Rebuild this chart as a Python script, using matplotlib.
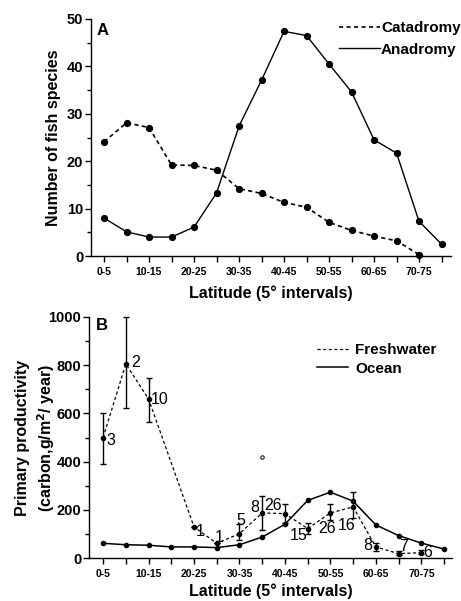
import numpy as np
import matplotlib
matplotlib.use('Agg')
import matplotlib.pyplot as plt
from matplotlib.ticker import MultipleLocator

plt.rcParams['font.family'] = ['Liberation Sans', 'DejaVu Sans']
plt.rcParams['font.weight'] = 'bold'

# Latitude bins (5 degree intervals)
lat_bins = ['0-5', '5-10', '10-15', '15-20', '20-25', '25-30', '30-35', '35-40',
            '40-45', '45-50', '50-55', '55-60', '60-65', '65-70', '70-75', '75-80']

# Panel A: number of fish species
catadromy_idx = list(range(15))
catadromy = [24.1, 28.1, 27.1, 19.2, 19.1, 18.1, 14.2, 13.2, 11.3, 10.3, 7.1, 5.4, 4.2, 3.2, 0.3]
anadromy_idx = list(range(16))
anadromy = [8.0, 5.1, 4.0, 4.0, 6.1, 13.3, 27.4, 37.1, 47.4, 46.5, 40.5, 34.6, 24.5, 21.7, 7.3, 2.5]

# Panel B: primary productivity
fresh_idx = [0, 1, 2, 4, 5, 6, 7, 8, 9, 10, 11, 12, 13, 14]
fresh = [500, 805, 660, 129, 61, 101, 187, 184, 122, 187, 212, 46, 18, 22]
fresh_hi = [600, 1000, 745, 129, 61, 140, 258, 226, 147, 223, 272, 62, 29, 32]
fresh_lo = [392, 622, 566, 129, 61, 73, 117, 146, 101, 157, 164, 29, 11, 15]
fresh_n = ['3', '2', '10', '1', '1', '5', '8', '26', '15', '26', '16', '8', '7', '6']
outlier_idx = [7]
outlier = [420]
ocean_idx = list(range(16))
ocean = [61, 55, 53, 46, 46, 43, 55, 87, 140, 239, 273, 236, 137, 93, 62, 37]

W, H = 461, 601
fig = plt.figure(figsize=(W / 100, H / 100), dpi=100)


def style_axis(ax, xlim, labelpad):
    for s in ['top', 'right']:
        ax.spines[s].set_visible(False)
    for s in ['left', 'bottom']:
        ax.spines[s].set_linewidth(1.0)
    ax.set_xlim(*xlim)
    ax.set_xticks(range(len(lat_bins)))
    ax.set_xticklabels([b if i % 2 == 0 else '' for i, b in enumerate(lat_bins)],
                       fontsize=7.5, fontweight='bold')
    ax.tick_params(axis='x', direction='out', length=4, width=1, pad=4)
    ax.tick_params(axis='y', which='major', direction='out', length=4, width=1, pad=1.5,
                   labelsize=10.5)
    ax.tick_params(axis='y', which='minor', direction='out', length=3, width=1)
    ax.set_xlabel('Latitude (5\u00b0 intervals)', fontsize=11.5, fontweight='bold',
                  labelpad=labelpad)


# ---- Panel A ----
axA = fig.add_axes([91 / W, 1 - 256 / H, 360 / W, 237 / H])
style_axis(axA, (-0.58, 15.42), 6)
axA.set_ylim(0, 50)
axA.yaxis.set_major_locator(MultipleLocator(10))
axA.yaxis.set_minor_locator(MultipleLocator(5))
axA.plot(catadromy_idx, catadromy, color='black', lw=1.2, linestyle=(0, (2.5, 2)),
         marker='o', ms=4.2, clip_on=False, label='Catadromy')
axA.plot(anadromy_idx, anadromy, color='black', lw=1.0, marker='o', ms=4.2,
         clip_on=False, label='Anadromy')
axA.set_ylabel('Number of fish species', fontsize=11.5, fontweight='bold')
axA.yaxis.set_label_coords(-0.083, 0.5)
axA.text(0.015, 0.985, 'A', transform=axA.transAxes, fontsize=12, fontweight='bold',
         ha='left', va='top')
axA.legend(loc='upper left', bbox_to_anchor=(339 / W, 1 - 21 / H), bbox_transform=fig.transFigure,
           frameon=False, handlelength=2.7, handletextpad=0.05, labelspacing=0.5,
           borderpad=0, borderaxespad=0,
           prop={'size': 11, 'weight': 'bold'}, markerscale=0)

# ---- Panel B ----
axB = fig.add_axes([89 / W, 1 - 558 / H, 363 / W, 241 / H])
style_axis(axB, (-0.62, 15.35), 3)
axB.set_ylim(0, 1000)
axB.yaxis.set_major_locator(MultipleLocator(200))
axB.yaxis.set_minor_locator(MultipleLocator(100))
yerr = [np.array(fresh) - np.array(fresh_lo), np.array(fresh_hi) - np.array(fresh)]
axB.errorbar(fresh_idx, fresh, yerr=yerr, fmt='none', ecolor='black', elinewidth=1.0,
             capsize=2, capthick=1.0, clip_on=False)
axB.plot(fresh_idx, fresh, color='black', lw=0.9, linestyle=(0, (2.5, 2)),
         marker='o', ms=3, clip_on=False, label='Freshwater')
axB.plot(ocean_idx, ocean, color='black', lw=1.1, marker='o', ms=3,
         clip_on=False, label='Ocean')
axB.plot(outlier_idx, outlier, linestyle='none', marker='o', ms=2.5, mfc='white',
         mec='black', mew=0.7)

# sample-size labels next to freshwater points (offsets in pixels)
offsets = [(8, -3), (10, 1), (11, -1), (6, -5), (2, 6), (1, 13), (-7, 5), (-12, 8),
           (-9, -7), (-3, -16), (-6, -19), (-8, 1), (5, 7), (6, 0)]
for xi, yi, n, (dx, dy) in zip(fresh_idx, fresh, fresh_n, offsets):
    axB.annotate(n, (xi, yi), xytext=(dx * 0.72, dy * 0.72), textcoords='offset points',
                 ha='center', va='center', fontsize=11.5, fontweight='normal')

axB.set_ylabel('Primary productivity\n(carbon,g/m$^2$/ year)', fontsize=11.5,
               fontweight='bold', linespacing=1.3)
axB.yaxis.set_label_coords(-0.088, 0.5)
axB.text(0.02, 0.995, 'B', transform=axB.transAxes, fontsize=12, fontweight='bold',
         ha='left', va='top')
axB.legend(loc='upper left', bbox_to_anchor=(317 / W, 1 - 343 / H), bbox_transform=fig.transFigure,
           frameon=False, handlelength=2.0, handletextpad=0.5, labelspacing=0.3,
           borderpad=0, borderaxespad=0,
           prop={'size': 11, 'weight': 'bold'}, markerscale=0)

fig.savefig('out.png', dpi=100)
